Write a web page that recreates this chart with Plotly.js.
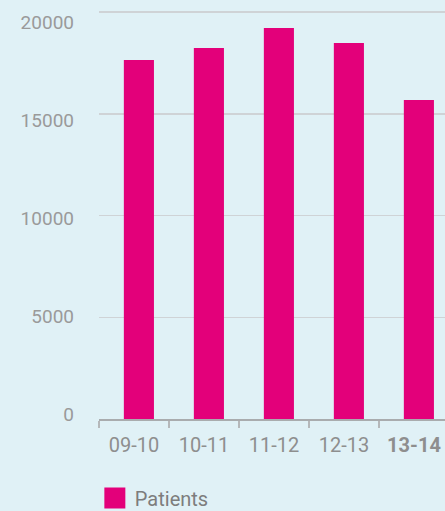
<!DOCTYPE html>
<html>
<head>
<meta charset="utf-8">
<script src="https://cdn.plot.ly/plotly-3.0.1.min.js"></script>
<style>
html,body{margin:0;padding:0;background:#e0f1f6;overflow:hidden;}
#chart{width:445px;height:511px;}
</style>
</head>
<body>
<div id="chart"></div>
<script>
// ---- data ----
const categories = ["09-10", "10-11", "11-12", "12-13", "13-14"];
const tickLabels = ["09-10", "10-11", "11-12", "12-13", "<b>13-14</b>"];
const patients = [17640, 18230, 19210, 18480, 15680];
const yTicks = [0, 5000, 10000, 15000, 20000];
const seriesName = "Patients";

const PINK = "#e3007a";
const BG = "#e0f1f6";

const barTrace = {
  type: "bar",
  x: categories,
  y: patients,
  width: 0.43,
  offset: -0.145,
  marker: {color: PINK},
  showlegend: false,
  hoverinfo: "x+y"
};
// legend entry (larger square symbol); sits on the label axis
const legendTrace = {
  type: "scatter",
  mode: "markers",
  x: [null],
  y: [null],
  yaxis: "y2",
  name: seriesName,
  marker: {symbol: "square", size: 25, color: PINK, line: {width: 5, color: PINK}},
  showlegend: true
};

const layout = {
  width: 445,
  height: 511,
  margin: {l: 99, r: 0, t: 0, b: 92, pad: 0, autoexpand: false},
  paper_bgcolor: BG,
  plot_bgcolor: BG,
  showlegend: true,
  bargap: 0.57,
  xaxis: {
    type: "category",
    range: [-0.5, 4.443],
    tickvals: categories,
    ticktext: tickLabels,
    showline: true,
    linecolor: "#a9acae",
    linewidth: 2,
    ticks: "outside",
    tickson: "boundaries",
    ticklen: 7,
    tickwidth: 1.5,
    tickcolor: "#b5b8ba",
    showgrid: false,
    zeroline: false,
    tickfont: {family: "Roboto, sans-serif", size: 20, color: "#8e8e8e"},
    ticklabelstandoff: 7,
    automargin: false,
    fixedrange: true
  },
  yaxis: {
    range: [0, 20590],
    tickvals: yTicks,
    showticklabels: false,
    showgrid: true,
    gridcolor: "#cfd3d6",
    gridwidth: 1.5,
    zeroline: false,
    showline: false,
    ticks: "",
    automargin: false,
    fixedrange: true
  },
  yaxis2: {
    overlaying: "y",
    side: "left",
    range: [-229, 21121],
    tickvals: yTicks,
    ticktext: yTicks.map(String),
    showgrid: false,
    zeroline: false,
    showline: false,
    ticks: "",
    tickfont: {family: "Roboto, sans-serif", size: 19, color: "#9a9a9a"},
    ticklabelstandoff: 24,
    automargin: false,
    fixedrange: true
  },
  legend: {
    orientation: "h",
    x: -0.012,
    xanchor: "left",
    y: -0.142,
    yanchor: "top",
    bgcolor: "rgba(0,0,0,0)",
    font: {family: "Roboto, sans-serif", size: 20, color: "#7d7d7d"},
    itemsizing: "trace"
  }
};

Plotly.newPlot("chart", [barTrace, legendTrace], layout, {displayModeBar: false, staticPlot: true});
</script>
</body>
</html>
